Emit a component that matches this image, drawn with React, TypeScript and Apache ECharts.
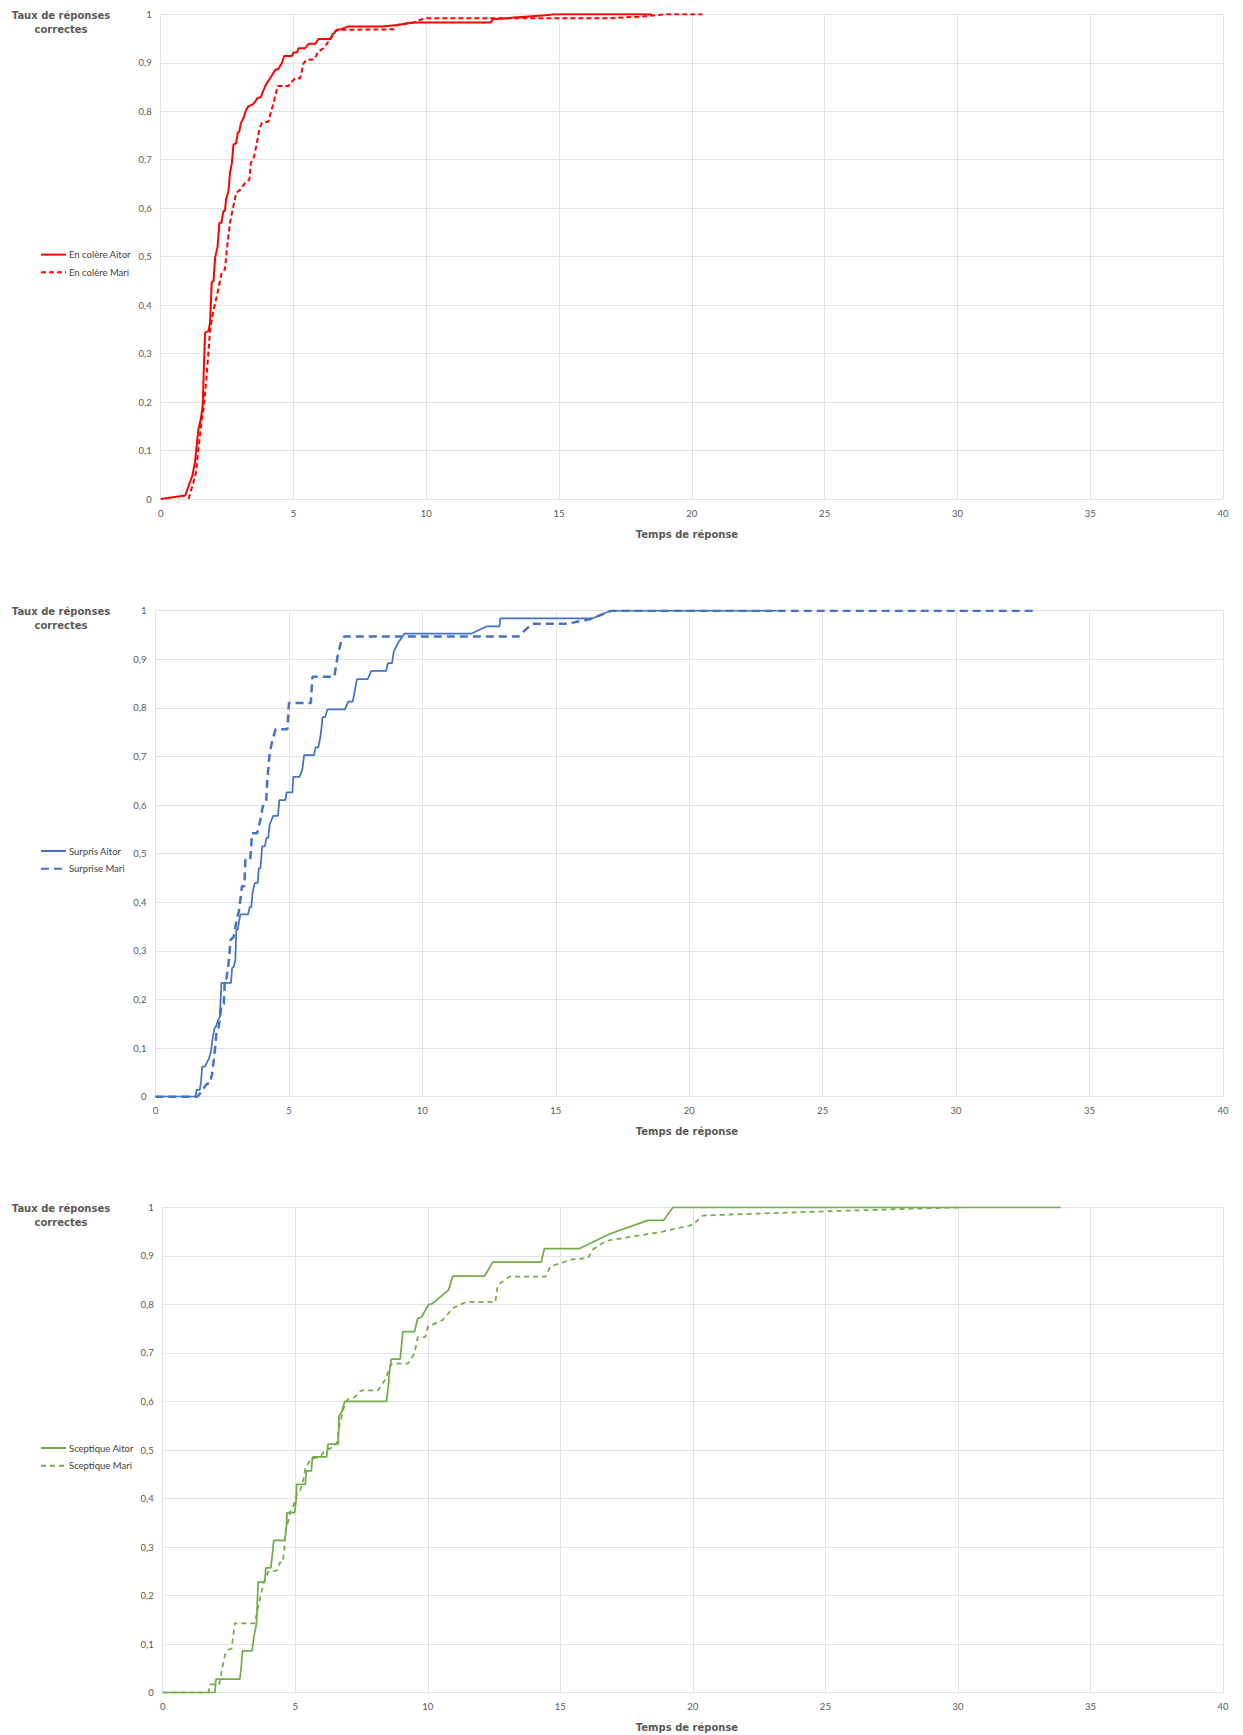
import React, { useEffect, useRef } from "react";
import * as echarts from "echarts";

// ---------- DATA ----------
const xTickValues = [0, 5, 10, 15, 20, 25, 30, 35, 40];
const yTickValues = [0, 0.1, 0.2, 0.3, 0.4, 0.5, 0.6, 0.7, 0.8, 0.9, 1];

const seriesNames = [
  ["En colère Aitor", "En colère Mari"],
  ["Surpris Aitor", "Surprise Mari"],
  ["Sceptique Aitor", "Sceptique Mari"],
];

const angerAitor: number[][] = [
  [0, 0], [0.92, 0.007], [1.19, 0.048], [1.29, 0.075], [1.42, 0.144], [1.51, 0.165], [1.58, 0.192],
  [1.67, 0.343], [1.8, 0.347], [1.86, 0.364], [1.92, 0.447], [1.99, 0.45], [2.05, 0.498], [2.14, 0.52],
  [2.21, 0.57], [2.29, 0.57], [2.36, 0.594], [2.42, 0.594], [2.46, 0.618], [2.55, 0.635], [2.61, 0.673],
  [2.68, 0.693], [2.74, 0.731], [2.84, 0.734], [2.9, 0.755], [2.96, 0.758], [3.02, 0.776], [3.12, 0.786],
  [3.22, 0.803], [3.3, 0.81], [3.47, 0.814], [3.56, 0.82], [3.64, 0.827], [3.77, 0.829], [3.83, 0.838],
  [3.96, 0.855], [4.12, 0.868], [4.31, 0.885], [4.43, 0.887], [4.56, 0.899], [4.65, 0.914], [4.94, 0.914],
  [5.0, 0.921], [5.13, 0.921], [5.19, 0.93], [5.44, 0.93], [5.57, 0.939], [5.82, 0.939], [5.94, 0.949],
  [6.41, 0.949], [6.47, 0.958], [6.63, 0.967], [6.82, 0.97], [7.07, 0.975], [8.33, 0.975], [8.9, 0.978],
  [9.52, 0.983], [12.43, 0.983], [12.5, 0.99], [14.5, 0.998], [14.8, 1], [18.5, 1],
];

const angerMari: number[][] = [
  [1.05, 0], [1.23, 0.034], [1.33, 0.055], [1.42, 0.103], [1.55, 0.165], [1.63, 0.192], [1.73, 0.254],
  [1.86, 0.35], [1.99, 0.39], [2.11, 0.418], [2.3, 0.467], [2.42, 0.474], [2.49, 0.515], [2.61, 0.57],
  [2.71, 0.597], [2.84, 0.631], [2.99, 0.638], [3.18, 0.652], [3.34, 0.659], [3.39, 0.693], [3.52, 0.707],
  [3.62, 0.734], [3.72, 0.765], [3.81, 0.776], [4.06, 0.779], [4.16, 0.8], [4.25, 0.817], [4.37, 0.844],
  [4.4, 0.852], [4.81, 0.852], [4.94, 0.861], [5.06, 0.868], [5.25, 0.868], [5.38, 0.899], [5.5, 0.906],
  [5.78, 0.907], [5.94, 0.923], [6.13, 0.93], [6.32, 0.944], [6.51, 0.961], [6.63, 0.968], [8.77, 0.969],
  [8.9, 0.978], [9.52, 0.983], [9.84, 0.99], [10.03, 0.992], [16.9, 0.992], [18.0, 0.995], [19.0, 1],
  [20.4, 1],
];

const surpriseAitor: number[][] = [
  [0, 0], [1.5, 0], [1.54, 0.014], [1.66, 0.014], [1.71, 0.033], [1.75, 0.062], [1.85, 0.062], [2.0, 0.078],
  [2.08, 0.093], [2.15, 0.124], [2.21, 0.14], [2.28, 0.146], [2.34, 0.157], [2.41, 0.164], [2.43, 0.188],
  [2.47, 0.234], [2.83, 0.234], [2.87, 0.265], [2.93, 0.267], [2.99, 0.28], [3.03, 0.344], [3.08, 0.344],
  [3.14, 0.363], [3.18, 0.375], [3.47, 0.375], [3.53, 0.39], [3.59, 0.39], [3.64, 0.421], [3.72, 0.44],
  [3.83, 0.44], [3.87, 0.47], [3.93, 0.47], [4.0, 0.515], [4.1, 0.515], [4.15, 0.532], [4.22, 0.532],
  [4.28, 0.56], [4.41, 0.578], [4.59, 0.578], [4.64, 0.61], [4.87, 0.61], [4.91, 0.626], [5.13, 0.626],
  [5.16, 0.658], [5.4, 0.658], [5.5, 0.673], [5.57, 0.703], [5.94, 0.703], [6.0, 0.719], [6.1, 0.719],
  [6.17, 0.738], [6.22, 0.758], [6.26, 0.781], [6.36, 0.781], [6.44, 0.797], [7.1, 0.797], [7.22, 0.813],
  [7.39, 0.813], [7.55, 0.859], [7.95, 0.859], [8.08, 0.876], [8.64, 0.876], [8.71, 0.892], [8.86, 0.892],
  [8.93, 0.916], [9.08, 0.933], [9.33, 0.953], [11.85, 0.953], [12.42, 0.968], [12.89, 0.968],
  [12.92, 0.984], [16.36, 0.984], [17.05, 1], [23.3, 1],
];

const surpriseMari: number[][] = [
  [0, 0], [1.56, 0], [1.66, 0.006], [1.81, 0.018], [1.94, 0.027], [2.04, 0.027], [2.12, 0.047],
  [2.18, 0.074], [2.25, 0.109], [2.29, 0.136], [2.37, 0.143], [2.43, 0.17], [2.47, 0.188], [2.56, 0.191],
  [2.6, 0.243], [2.66, 0.243], [2.75, 0.28], [2.81, 0.322], [2.93, 0.329], [3.06, 0.37], [3.12, 0.38],
  [3.18, 0.404], [3.24, 0.433], [3.33, 0.433], [3.37, 0.488], [3.55, 0.488], [3.62, 0.542], [3.81, 0.542],
  [3.93, 0.57], [4.02, 0.597], [4.15, 0.61], [4.18, 0.645], [4.28, 0.707], [4.37, 0.731], [4.5, 0.756],
  [4.94, 0.756], [5.0, 0.81], [5.82, 0.81], [5.88, 0.864], [6.7, 0.864], [6.82, 0.905], [6.95, 0.936],
  [7.07, 0.947], [13.6, 0.947], [14.1, 0.973], [15.42, 0.973], [16.3, 0.983], [17.1, 1], [33.0, 1],
];

const scepticAitor: number[][] = [
  [0, 0], [1.97, 0], [2.01, 0.028], [2.91, 0.028], [2.97, 0.057], [3.01, 0.086], [3.37, 0.086],
  [3.44, 0.115], [3.54, 0.143], [3.6, 0.228], [3.85, 0.228], [3.89, 0.257], [4.08, 0.257], [4.14, 0.286],
  [4.19, 0.314], [4.61, 0.314], [4.67, 0.343], [4.69, 0.371], [4.98, 0.371], [5.04, 0.4], [5.05, 0.429],
  [5.38, 0.429], [5.42, 0.457], [5.61, 0.457], [5.65, 0.486], [6.18, 0.486], [6.24, 0.512], [6.62, 0.512],
  [6.65, 0.57], [6.75, 0.578], [6.87, 0.6], [8.44, 0.6], [8.5, 0.626], [8.55, 0.658], [8.62, 0.687],
  [8.96, 0.687], [9.06, 0.744], [9.5, 0.744], [9.62, 0.771], [9.75, 0.773], [10.04, 0.8], [10.16, 0.801],
  [10.79, 0.83], [10.94, 0.858], [12.14, 0.858], [12.45, 0.887], [14.28, 0.887], [14.4, 0.915],
  [15.72, 0.915], [16.86, 0.945], [18.3, 0.973], [18.89, 0.973], [19.25, 1], [33.87, 1],
];

const scepticMari: number[][] = [
  [0, 0], [1.72, 0], [1.76, 0.009], [1.78, 0.017], [2.13, 0.017], [2.22, 0.043], [2.35, 0.078],
  [2.47, 0.088], [2.6, 0.091], [2.72, 0.143], [3.48, 0.143], [3.54, 0.16], [3.64, 0.187], [3.73, 0.208],
  [3.82, 0.228], [3.98, 0.249], [4.32, 0.252], [4.42, 0.268], [4.52, 0.268], [4.58, 0.29], [4.64, 0.335],
  [4.73, 0.352], [4.82, 0.373], [4.9, 0.381], [4.98, 0.393], [5.04, 0.407], [5.17, 0.414], [5.29, 0.434],
  [5.38, 0.462], [5.48, 0.472], [5.61, 0.482], [5.93, 0.485], [6.12, 0.499], [6.43, 0.506], [6.58, 0.516],
  [6.68, 0.554], [6.87, 0.595], [7.0, 0.605], [7.25, 0.609], [7.5, 0.623], [8.13, 0.623], [8.25, 0.633],
  [8.38, 0.644], [8.5, 0.66], [8.63, 0.678], [9.25, 0.678], [9.5, 0.699], [9.62, 0.732], [9.91, 0.733],
  [10.0, 0.754], [10.57, 0.768], [10.94, 0.792], [11.45, 0.805], [12.55, 0.805], [12.64, 0.84],
  [13.08, 0.857], [14.44, 0.857], [14.62, 0.878], [15.47, 0.893], [16.04, 0.895], [16.23, 0.913],
  [16.73, 0.931], [18.87, 0.95], [20.0, 0.964], [20.38, 0.983], [25.1, 0.992], [30.2, 1],
];

const yTitle = "Taux de réponses\ncorrectes";
const xTitle = "Temps de réponse";

// ---------- LAYOUT / STYLE ----------
const grids = [
  { left: 160.7, top: 14.3, width: 1062.3, height: 484.7 },
  { left: 155.5, top: 610.7, width: 1067.5, height: 486 },
  { left: 162.7, top: 1207.3, width: 1060.3, height: 485.4 },
];
const legendTops = [249.6, 846, 1443];
const yTitleCenters = [22, 618, 1215];
const xTitleCenters = [534, 1131, 1727];

const colors = ["#ff0000", "#4472c4", "#70ad47"];
const gridColor = "#e2e2e2";
const labelColor = "#595959";
const labelFont = "Lato, 'Open Sans', sans-serif";
const titleFont = "bold 10px 'DejaVu Sans', sans-serif";

const solidData = [angerAitor, surpriseAitor, scepticAitor];
const dashedData = [angerMari, surpriseMari, scepticMari];
const dashTypes = [[5, 3], [8, 5], [5, 4]];
const dashWidths = [2, 2.5, 1.75];
const solidWidths = [2, 1.75, 1.75];

export default function App() {
  const ref = useRef<HTMLDivElement>(null);

  useEffect(() => {
    if (!ref.current) return;
    const chart = echarts.init(ref.current, undefined, { renderer: "svg" });

    const xAxis = grids.map((_, i) => ({
      type: "value",
      gridIndex: i,
      min: xTickValues[0],
      max: xTickValues[xTickValues.length - 1],
      interval: 5,
      axisLine: { show: true, lineStyle: { color: gridColor, width: 1 } },
      axisTick: { show: false },
      splitLine: { show: true, lineStyle: { color: gridColor, width: 1 } },
      axisLabel: { color: labelColor, fontFamily: labelFont, fontSize: 9.5, margin: 9 },
    }));

    const yAxis = grids.map((_, i) => ({
      type: "value",
      gridIndex: i,
      min: yTickValues[0],
      max: yTickValues[yTickValues.length - 1],
      interval: 0.1,
      axisLine: { show: true, lineStyle: { color: gridColor, width: 1 } },
      axisTick: { show: false },
      splitLine: { show: true, lineStyle: { color: gridColor, width: 1 } },
      axisLabel: {
        color: labelColor,
        fontFamily: labelFont,
        fontSize: 9.5,
        margin: 9,
        formatter: (v: number) => String(Math.round(v * 10) / 10).replace(".", ","),
      },
    }));

    const series: any[] = [];
    grids.forEach((_, i) => {
      series.push({
        type: "line",
        name: seriesNames[i][0],
        xAxisIndex: i,
        yAxisIndex: i,
        data: solidData[i],
        symbol: "none",
        showSymbol: false,
        lineStyle: { color: colors[i], width: solidWidths[i], type: "solid" },
        itemStyle: { color: colors[i] },
      });
      series.push({
        type: "line",
        name: seriesNames[i][1],
        xAxisIndex: i,
        yAxisIndex: i,
        data: dashedData[i],
        symbol: "none",
        showSymbol: false,
        lineStyle: { color: colors[i], width: dashWidths[i], type: dashTypes[i] },
        itemStyle: { color: colors[i] },
      });
    });

    const legend = grids.map((_, i) => ({
      data: seriesNames[i],
      orient: "vertical",
      left: 40,
      top: legendTops[i],
      itemWidth: 25,
      itemHeight: 10,
      itemGap: 7.7,
      padding: 0,
      itemStyle: { opacity: 0 },
      textStyle: { color: "#404040", fontFamily: labelFont, fontSize: 9.5, padding: [0, 0, 0, -2] },
    }));

    const graphic: any[] = [];
    grids.forEach((_, i) => {
      graphic.push({
        type: "text",
        x: 61,
        y: yTitleCenters[i],
        style: {
          text: yTitle,
          font: titleFont,
          fill: labelColor,
          align: "center",
          verticalAlign: "middle",
          textAlign: "center",
          textVerticalAlign: "middle",
          lineHeight: 14,
        },
      });
      graphic.push({
        type: "text",
        x: 687,
        y: xTitleCenters[i],
        style: {
          text: xTitle,
          font: titleFont,
          fill: labelColor,
          align: "center",
          verticalAlign: "middle",
          textAlign: "center",
          textVerticalAlign: "middle",
        },
      });
    });

    chart.setOption({
      animation: false,
      backgroundColor: "#ffffff",
      grid: grids,
      xAxis,
      yAxis,
      legend,
      series,
      graphic,
    });

    return () => chart.dispose();
  }, []);

  return (
    <div
      ref={ref}
      style={{ position: "absolute", left: 0, top: 0, width: 1243, height: 1735 }}
    />
  );
}
